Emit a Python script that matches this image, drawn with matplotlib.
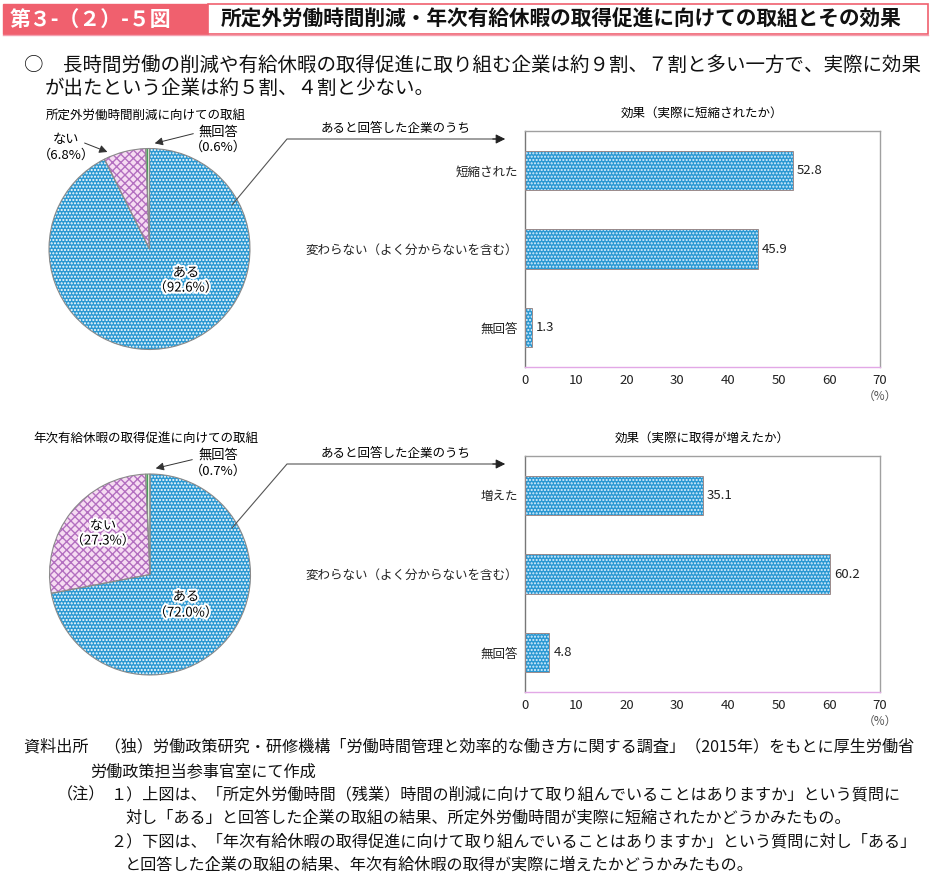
import numpy as np
import matplotlib.pyplot as plt
import matplotlib.patheffects as pe
from matplotlib.patches import Rectangle

plt.rcParams['font.family'] = ['Noto Sans CJK JP', 'DejaVu Sans']
plt.rcParams['hatch.linewidth'] = 1.0

# Data
pie1_labels = ['ある', 'ない', '無回答']
pie1_values = [92.6, 6.8, 0.6]
pie2_labels = ['ある', 'ない', '無回答']
pie2_values = [72.0, 27.3, 0.7]

bar1_cats = ['短縮された', '変わらない（よく分からないを含む）', '無回答']
bar1_values = [52.8, 45.9, 1.3]
bar2_cats = ['増えた', '変わらない（よく分からないを含む）', '無回答']
bar2_values = [35.1, 60.2, 4.8]
x_ticks = [0, 10, 20, 30, 40, 50, 60, 70]

W, H = 932, 884
fig = plt.figure(figsize=(W / 100, H / 100), dpi=100)


def px_axes(x0, y0, w, h):
    return fig.add_axes([x0 / W, 1 - (y0 + h) / H, w / W, h / H])


BLUE = '#2a98d2'
PINK = '#f6dcf2'
PURPLE = '#b36fc0'
GREEN = '#d9f0d4'

halo = [pe.withStroke(linewidth=3, foreground='white')]


def draw_pie(cx, cy, r, values):
    ax = px_axes(cx - r, cy - r, 2 * r, 2 * r)
    wedges, _ = ax.pie(values, startangle=90, counterclock=False, radius=1)
    styles = [(BLUE, 'white', '.....'), (PINK, PURPLE, 'xxxx'), (GREEN, '#3c9a50', '|||')]
    for w, (fc, hc, hatch) in zip(wedges, styles):
        w.set_facecolor(fc)
        w.set_edgecolor(hc)
        w.set_hatch(hatch)
        w.set_linewidth(0)
    ax.pie(values, startangle=90, counterclock=False, radius=1,
           wedgeprops=dict(fill=False, edgecolor='#8a8a8a', linewidth=0.8))
    ax.set_xlim(-1.02, 1.02)
    ax.set_ylim(-1.02, 1.02)
    ax.set_aspect('equal')
    ax.axis('off')


def draw_bars(y0, cats, values):
    ax = px_axes(525, y0, 355, 236)
    y = np.arange(len(cats))
    ax.barh(y, values, height=0.5, color=BLUE, edgecolor='none', zorder=2)
    ax.barh(y, values, height=0.5, color='none', edgecolor='#dff1ff',
            hatch='.....', linewidth=0, zorder=3)
    ax.barh(y, values, height=0.5, fill=False, edgecolor='#9a8a8a',
            linewidth=0.7, zorder=4)
    for yi, v in zip(y, values):
        ax.text(v + 0.8, yi, f'{v:.1f}', va='center', ha='left', fontsize=9.5,
                color='#222222')
    ax.set_xlim(0, 70)
    ax.set_ylim(2.5, -0.5)
    ax.set_yticks(y)
    ax.set_yticklabels(cats, fontsize=9)
    ax.set_xticks(x_ticks)
    ax.set_xticklabels([str(t) for t in x_ticks], fontsize=9.5)
    ax.tick_params(axis='both', length=0, colors='#222222')
    ax.tick_params(axis='y', pad=5)
    ax.tick_params(axis='x', pad=5)
    for s in ['top', 'right']:
        ax.spines[s].set_color('#a0a0a0')
    ax.spines['left'].set_color('#777777')
    ax.spines['bottom'].set_color('#e2a8e6')
    for s in ax.spines.values():
        s.set_linewidth(1.0)
    return ax


draw_pie(149.5, 249, 102.5, pie1_values)
draw_pie(150, 574.5, 102.5, pie2_values)
draw_bars(131, bar1_cats, bar1_values)
draw_bars(456, bar2_cats, bar2_values)

# overlay for text and annotation lines
ov = fig.add_axes([0, 0, 1, 1], zorder=10)
ov.set_xlim(0, W)
ov.set_ylim(H, 0)
ov.axis('off')
ov.patch.set_alpha(0)

# header
ov.add_patch(Rectangle((3, 4), 205, 30, facecolor='#f0606e', edgecolor='#f0606e', lw=1))
ov.add_patch(Rectangle((208, 4), 720, 30, facecolor='white', edgecolor='#f0606e', lw=1.2))
ov.plot([3, 928], [35, 35], color='#f4a0b0', lw=1)
ov.text(10, 19, '第３-（２）-５図', color='white', fontsize=15, va='center', ha='left',
        fontweight='bold')
ov.text(221, 19, '所定外労働時間削減・年次有給休暇の取得促進に向けての取組とその効果',
        fontsize=14.9, va='center', ha='left', fontweight='bold', color='#111111')

ov.text(24, 65, '○　長時間労働の削減や有給休暇の取得促進に取り組む企業は約９割、７割と多い一方で、実際に効果',
        fontsize=14, va='center', ha='left', color='#111111')
ov.text(45, 88, 'が出たという企業は約５割、４割と少ない。',
        fontsize=14, va='center', ha='left', color='#111111')

# pie titles
ov.text(146, 115, '所定外労働時間削減に向けての取組', fontsize=9, ha='center', va='center')
ov.text(146, 439, '年次有給休暇の取得促進に向けての取組', fontsize=9, ha='center', va='center')

# bar titles
ov.text(702, 113, '効果（実際に短縮されたか）', fontsize=9, ha='center', va='center')
ov.text(702, 438, '効果（実際に取得が増えたか）', fontsize=9, ha='center', va='center')

# (%) unit
ov.text(880, 396, '（%）', fontsize=8.5, ha='center', va='center', color='#555555')
ov.text(880, 721, '（%）', fontsize=8.5, ha='center', va='center', color='#555555')

# pie 1 labels
ov.text(186, 273, pie1_labels[0], fontsize=9.5, ha='center', va='center', path_effects=halo)
ov.text(186, 288, f'（{pie1_values[0]:.1f}%）', fontsize=9.5, ha='center', va='center',
        path_effects=halo)
ov.text(66, 140, pie1_labels[1], fontsize=9.5, ha='center', va='center')
ov.text(66, 155, f'（{pie1_values[1]:.1f}%）', fontsize=9.5, ha='center', va='center')
ov.text(218, 132, pie1_labels[2], fontsize=9.5, ha='center', va='center')
ov.text(218, 147, f'（{pie1_values[2]:.1f}%）', fontsize=9.5, ha='center', va='center')
arrow = dict(arrowstyle='-|>', color='#333333', lw=0.7, mutation_scale=12)
ov.annotate('', xy=(110, 153), xytext=(82, 142), arrowprops=arrow)
ov.annotate('', xy=(152, 144), xytext=(196, 133), arrowprops=arrow)

# pie 2 labels
ov.text(186, 597, pie2_labels[0], fontsize=9.5, ha='center', va='center', path_effects=halo)
ov.text(186, 613, f'（{pie2_values[0]:.1f}%）', fontsize=9.5, ha='center', va='center',
        path_effects=halo)
ov.text(103, 526, pie2_labels[1], fontsize=9.5, ha='center', va='center', path_effects=halo)
ov.text(103, 541, f'（{pie2_values[1]:.1f}%）', fontsize=9.5, ha='center', va='center',
        path_effects=halo)
ov.text(218, 455, pie2_labels[2], fontsize=9.5, ha='center', va='center')
ov.text(218, 471, f'（{pie2_values[2]:.1f}%）', fontsize=9.5, ha='center', va='center')
ov.annotate('', xy=(153, 469), xytext=(195, 459), arrowprops=arrow)

# leader lines to bar charts
for (sx, sy), ly in [((232, 205), 139), ((232, 528), 464)]:
    ov.plot([sx, 287, 500], [sy, ly, ly], color='#555555', lw=0.8)
    ov.annotate('', xy=(508, ly), xytext=(490, ly),
                arrowprops=dict(arrowstyle='-|>', color='#222222', lw=0.8,
                                mutation_scale=14))
    ov.text(396, ly - 11, 'あると回答した企業のうち', fontsize=9, ha='center', va='center')

# footer
foot = dict(fontsize=11.6, ha='left', va='center', color='#111111')
ov.text(24, 747, '資料出所　（独）労働政策研究・研修機構「労働時間管理と効率的な働き方に関する調査」（2015年）をもとに厚生労働省', **foot)
ov.text(90, 772, '労働政策担当参事官室にて作成', **foot)
ov.text(57, 795, '（注）', **foot)
ov.text(110, 795, '１）上図は、「所定外労働時間（残業）時間の削減に向けて取り組んでいることはありますか」という質問に', **foot)
ov.text(125, 818, '対し「ある」と回答した企業の取組の結果、所定外労働時間が実際に短縮されたかどうかみたもの。', **foot)
ov.text(110, 842, '２）下図は、「年次有給休暇の取得促進に向けて取り組んでいることはありますか」という質問に対し「ある」', **foot)
ov.text(125, 865, 'と回答した企業の取組の結果、年次有給休暇の取得が実際に増えたかどうかみたもの。', **foot)

fig.savefig('out.png', dpi=100)
